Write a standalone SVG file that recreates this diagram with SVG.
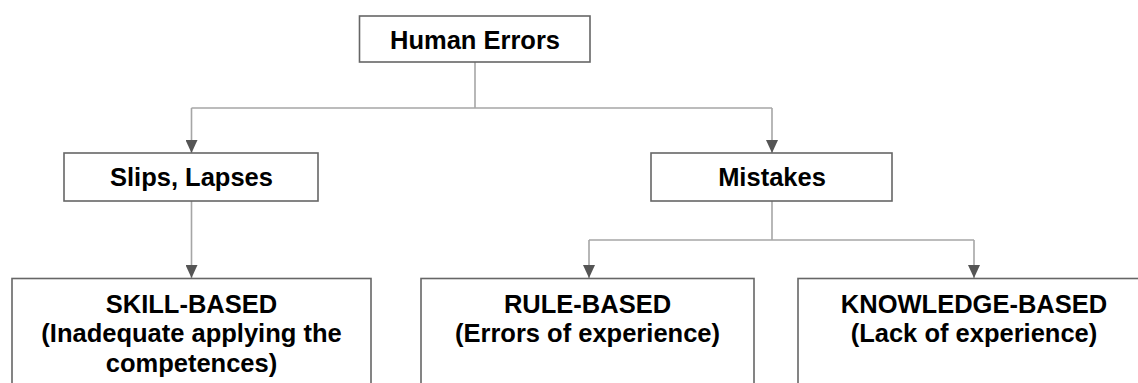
<svg xmlns="http://www.w3.org/2000/svg" width="1138" height="383" viewBox="0 0 1138 383">
<defs>
<marker id="arr" viewBox="0 0 13 12" refX="13" refY="6" markerWidth="13" markerHeight="12" markerUnits="userSpaceOnUse" orient="auto">
<path d="M0,0 L13,6 L0,12 Z" fill="#555555"/>
</marker>
<style>
.box{fill:#ffffff;stroke:#666666;stroke-width:1.6}
.t{font-family:"Liberation Sans",Arial,sans-serif;font-weight:bold;font-size:25.5px;fill:#000000;text-anchor:middle}
.c{fill:none;stroke:#a6a6a6;stroke-width:1.6}
</style>
</defs>
<rect width="1138" height="383" fill="#ffffff"/>
<g id="connectors">
<path class="c" d="M475,62 V108"/>
<path class="c" d="M191.5,108 H772 M191.5,108 V153" marker-end="url(#arr)"/>
<path class="c" d="M772,108 V153" marker-end="url(#arr)"/>
<path class="c" d="M191.5,201 V278" marker-end="url(#arr)"/>
<path class="c" d="M772,201 V240"/>
<path class="c" d="M589,240 H974 M589,240 V278" marker-end="url(#arr)"/>
<path class="c" d="M974,240 V278" marker-end="url(#arr)"/>
</g>
<g id="human-errors">
<rect class="box" x="359.5" y="16" width="230.5" height="46"/>
<text class="t" x="475" y="48.5">Human Errors</text>
</g>
<g id="slips-lapses">
<rect class="box" x="64" y="153" width="254" height="48"/>
<text class="t" x="191.5" y="186">Slips, Lapses</text>
</g>
<g id="mistakes">
<rect class="box" x="651" y="153" width="241" height="48"/>
<text class="t" x="772" y="186">Mistakes</text>
</g>
<g id="skill-based">
<rect class="box" x="12" y="278.5" width="359" height="120"/>
<text class="t" x="191.5" y="313">SKILL-BASED</text>
<text class="t" x="191.5" y="342">(Inadequate applying the</text>
<text class="t" x="191.5" y="372">competences)</text>
</g>
<g id="rule-based">
<rect class="box" x="421" y="278.5" width="333" height="120"/>
<text class="t" x="587.5" y="313">RULE-BASED</text>
<text class="t" x="587.5" y="342">(Errors of experience)</text>
</g>
<g id="knowledge-based">
<rect class="box" x="798" y="278.5" width="360" height="120"/>
<text class="t" x="974" y="313">KNOWLEDGE-BASED</text>
<text class="t" x="974" y="342">(Lack of experience)</text>
</g>
</svg>
